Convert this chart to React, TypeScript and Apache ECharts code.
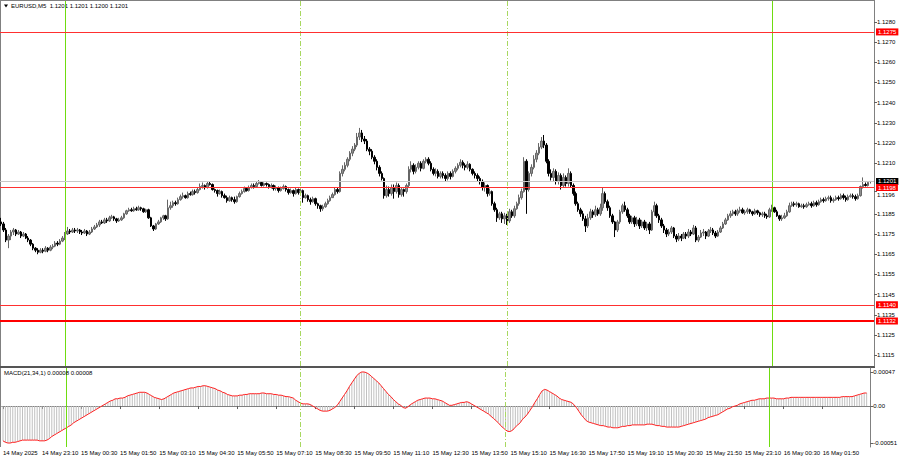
import React, { useEffect, useRef } from 'react';
import * as echarts from 'echarts';

// Prices in pips above 1.1000 (e.g. 201 = 1.1201)
const opens = [
181,180,177,172,174,176,177,175,176,174,
175,173,172,170,168,167,166,167,166.5,168,
167,168.5,169,170.5,170,171.5,173,175,176.5,176,
177,176.5,177,176,175.5,176.5,175,176,177.5,178.5,
179.5,181,180.5,182,181.5,183,183.5,182.5,181.5,182,
183,185,186.5,187,186.5,187.5,187,188,187.5,186,
187,183,179,177.5,180,181,183,184,182.5,188,
189,190.5,190,192,193.5,194,193,195,194.5,196,
195.5,197,198.5,199,198,200,199.5,197,196.5,195,
196,194,193,191.5,193,192,191,193.5,195,196,
197.5,196.5,198,199,198.5,200,200.5,199,200,199.5,
198.5,199,197.5,198,196.5,197.5,198.5,197,195.5,196.5,
195,197,195.5,196.5,193,194,192,191,192.5,190,
189,187.5,188.5,190,191.5,193,194.5,197,196,205,
207,209,212,215,217,219,223,225,222,221,
217,216,213,211,208,205,202.5,194,197,195,
198,196,199,194.5,197,196,199,207,209,206,
208,210,207.5,211,212,210,207,205,206,203.5,
205,204,202.5,205,203.5,206,207.5,209,210.5,209,
208,209.5,207,205,204,202.5,201,198,199,195,
196,190,187,183,185,182.5,184,181.5,186,184,
187.5,190,193,196,211,197,205,208,212,215,
218,221,219,211,205,203,206,201,204,199,
203,200,205,199,195,190,187,185,182.5,179,
183,186,184.5,187,185,188,195,191,188,184,
181,177,181,186,189,187,184,181,183,180,
182,179,181,178,180,177,186,189,184,182,
179,177,175,176,178,174,172.5,174,173,175,
174,176,175,178,172,173.5,175.5,176,174,176.5,
177,175.5,174,176,178,180,182,184,185,186,
185,186.5,187,185.5,186,187,186,185,186.5,185.5,
184.5,185,184,183.5,187,188,186,184,182.5,183,
184,186,189,190,189.5,190,188.5,189,188.5,189.5,
190,189,190.5,189.5,191,192,191.5,192.5,193,191.5,
192,193,192.5,194,193,192,193.5,194,193.5,192.5,
194,198.5,199.5,199,201
];
const closes = [
180,177,172,174,176,177,175,176,174,175,
173,172,170,168,167,166,167,166.5,168,167,
168.5,169,170.5,170,171.5,173,175,176.5,176,177,
176.5,177,176,175.5,176.5,175,176,177.5,178.5,179.5,
181,180.5,182,181.5,183,183.5,182.5,181.5,182,183,
185,186.5,187,186.5,187.5,187,188,187.5,186,187,
183,179,177.5,180,181,183,184,182.5,188,189,
190.5,190,192,193.5,194,193,195,194.5,196,195.5,
197,198.5,199,198,200,199.5,197,196.5,195,196,
194,193,191.5,193,192,191,193.5,195,196,197.5,
196.5,198,199,198.5,200,200.5,199,200,199.5,198.5,
199,197.5,198,196.5,197.5,198.5,197,195.5,196.5,195,
197,195.5,196.5,193,194,192,191,192.5,190,189,
187.5,188.5,190,191.5,193,194.5,197,196,205,207,
209,212,215,217,219,223,225,222,221,217,
216,213,211,208,205,202.5,194,197,195,198,
196,199,194.5,197,196,199,207,209,206,208,
210,207.5,211,212,210,207,205,206,203.5,205,
204,202.5,205,203.5,206,207.5,209,210.5,209,208,
209.5,207,205,204,202.5,201,198,199,195,196,
190,187,183,185,182.5,184,181.5,186,184,187.5,
190,193,196,211,197,205,208,212,215,218,
221,219,211,205,203,206,201,204,199,203,
200,205,199,195,190,187,185,182.5,179,183,
186,184.5,187,185,188,195,191,188,184,181,
177,181,186,189,187,184,181,183,180,182,
179,181,178,180,177,186,189,184,182,179,
177,175,176,178,174,172.5,174,173,175,174,
176,175,178,172,173.5,175.5,176,174,176.5,177,
175.5,174,176,178,180,182,184,185,186,185,
186.5,187,185.5,186,187,186,185,186.5,185.5,184.5,
185,184,183.5,187,188,186,184,182.5,183,184,
186,189,190,189.5,190,188.5,189,188.5,189.5,190,
189,190.5,189.5,191,192,191.5,192.5,193,191.5,192,
193,192.5,194,193,192,193.5,194,193.5,192.5,194,
198.5,199.5,199,200.5,201
];
const highs = [
183,181,178,175,177,178,177.5,177,176.5,176,
175.5,174,172.5,170.5,168.5,168,168,168,169,168.5,
169.5,170,171.5,171.5,172.5,174,176,178.5,177.5,178,
178,178,177.5,177,177.5,177,177,178.5,179.5,180.5,
182,182,183,183,184,184.5,184,183,183,184,
185.5,187,188,188,188.5,188.5,189,188.5,188,187.5,
187.5,183.5,179.5,180.5,182,183.5,184.5,184.5,192,191,
191.5,191.5,193,194.5,195.5,194.5,196,196,197,197,
198,200,200.5,199.5,201,201,200,197.5,197,197,
196.5,195,194,194,193.5,193.5,194,196,197,198.5,
198,199,200,200,201,201.7,201,200.5,200.5,200,
200,199.5,199,198.5,198.5,199.5,199,197.5,197.5,197,
198,197.5,198,197,195,194.5,193,193.5,193,190.5,
189.5,189.5,191,192.5,194,195.5,198,198,206,209,
210.5,213,216,218.5,220,225,227.5,226.5,223.5,222,
218,217,214,212,209,206,203,199,198.5,199.5,
199.5,200.5,200,198,197.5,200,208.5,211,210,209.5,
211,211,212,213,213,211,208,207.5,207,206,
206,205,206,206,207,208.5,210,212,211.5,210,
211,210,207.5,206,205,203.5,202,200.5,199.5,197.5,
196.5,191,188,186,186,185.5,185,187.5,187,189,
191,194.5,197.5,213,212,206,209.5,214,216.5,220,
223,224,220,212,207,207.5,207,205.5,205,205,
204,207.5,206,200,196,191,188,186.5,184,185,
187.5,187,189,188,190,198,196,192,189,185,
181.5,182,187,190,191,188,185,184,184,183.5,
183,182,182,181,181,187,191,190,185,183,
180,178,177.5,179,178.5,175,175.5,175,176,176,
177.5,177,179.5,179,174.5,177,177.5,176.5,177.5,178.5,
178,176.5,177,179,181,183,185,186.5,187,187,
187.5,188.5,188,187,188,187.5,186.5,187.5,187,186,
186,186,185,188,189.5,188.5,187,184.5,184.5,185.5,
187,190.5,191,191,191,190.5,190,190,190.5,191,
191,191.5,191.5,192,193,193,193.5,194,194,193,
194,194,195,195,194,194.5,195,195,194.5,195,
199,203,200.5,201,201
];
const lows = [
179,176,171,168,172,174.5,174,174.5,173,173.5,
172.5,171,169,167,166,165,165.5,165.5,166,166,
166.5,167.5,168.5,169,169.5,171,172,174.5,175,175.5,
175.5,175.5,175,174.5,175,174,174.5,175.5,177,178,
178.5,180,180,180.5,181,182.5,181.5,180.5,181,181.5,
182.5,184.5,186,186,186,186.5,186.5,186.5,185.5,185.5,
182.5,178.5,176.5,177,179.5,180.5,182,181.5,182,187,
188,189,189.5,191.5,192.5,192.5,192.5,194,194,194.5,
195,196.5,197.5,197,197.5,199,196.5,195.5,193.5,194.5,
193,192.5,190.5,191,191,190,190.5,193,194.5,195.5,
196,196,197.5,197.5,198,199.5,198.5,198.5,198.5,197.5,
197.5,196.5,196.5,195.5,196,197,196,194.5,195,193.5,
194.5,194.5,195,190.5,192.5,191,189.5,190.5,189,187.5,
186,186.5,188,189.5,191,193.5,194,195,195.5,203.5,
206,208,211,213.5,216,218,221.5,220.5,219.5,216,
214,212,209.5,206.5,203.5,201.5,192.5,193,193.5,194,
192.5,195,193,193.5,193.5,195,198,205.5,204.5,205,
207,206,207,210,209,206,204,203.5,202.5,202.5,
202.5,201,201.5,202,203,205,206.5,208,207.5,206.5,
207,206,204,202.5,201,199.5,196.5,196,193.5,194,
189,186,181,182,180.5,180,179.5,180.5,183,183,
187,189,192,195.5,185,196,203.5,207,210.5,214,
217,217.5,210,203.5,201.5,201,199.5,199.5,197,198,
198.5,198.5,198,194,189,186,183.5,181.5,176,178,
182,183,183.5,184,184,186.5,190,186.5,183,180,
173.5,176,180,185,186,183,180,180,178.5,179,
177.5,178,177,176.5,175,176.5,184,183,180.5,178,
175.5,173.5,174,175,173,171,171.5,171.5,172.5,172.5,
173,174,174.5,171,171,173,174,172.5,173.5,175.5,
174.5,173,173.5,175.5,177.5,179.5,181.5,183,184,184,
184,185.5,185,184.5,185,185,184,184.5,184.5,183.5,
183.5,183,182.5,183,186,185.5,183.5,181.5,181.5,182.5,
183.5,185.5,188.5,188.5,188.5,188,188,187.5,188,189,
188,188.5,188.5,189,190.5,190.5,191,191.5,190.5,190.5,
191.5,191.5,192,192,191,191.5,193,192.5,191.5,192,
193.5,197.5,198.5,198.5,200
];
// MACD(21,34,1) main value per bar, in units of 0.00001
const macd = [
-48,-50,-51,-51,-50,-50,-49,-48,-47,-47,
-47,-47,-47,-47,-47,-48,-48,-48,-47,-45,
-42,-40,-38,-36,-34,-32,-30,-28,-26,-23,
-21,-19,-17,-15,-13,-11,-9,-7,-5,-3,
-1,1,3,5,7,8,10,10,11,11,
12,14,15,16,17,18,19,19,19,18,
16,14,12,11,10,9,10,12,14,16,
18,19,20,21,22,23,24,25,25,26,
27,27,28,28,27,26,25,24,22,21,
19,18,16,15,14,14,14,15,15,16,
16,17,17,17,17,17,18,18,17,17,
17,16,16,15,15,14,13,13,12,11,
8,6,4,3,3,3,2,0,-2,-4,
-6,-7,-7,-7,-6,-4,-2,1,6,11,
16,21,27,32,37,42,45,47,47,46,
44,41,38,35,32,28,24,20,16,13,
9,6,3,1,-2,-3,-1,2,4,6,
8,9,10,11,11,11,10,10,9,8,
7,5,3,1,1,2,3,4,5,5,
6,5,3,1,-1,-3,-5,-7,-9,-11,
-14,-17,-20,-23,-27,-30,-33,-35,-35,-33,
-29,-26,-23,-18,-15,-11,-6,-1,5,10,
16,21,23,22,20,18,16,14,11,9,
8,7,6,5,2,-2,-7,-12,-16,-20,
-22,-23,-24,-25,-26,-27,-27,-28,-29,-29,
-30,-30,-30,-29,-28,-28,-27,-27,-26,-26,
-26,-26,-26,-26,-25,-25,-25,-26,-27,-27,
-28,-28,-29,-29,-29,-29,-29,-29,-28,-27,
-26,-25,-24,-23,-22,-21,-20,-19,-18,-16,
-15,-14,-13,-12,-10,-8,-6,-4,-3,-1,
0,1,3,4,5,6,7,8,8,9,
10,10,10,11,11,11,11,10,10,10,
10,11,11,12,12,12,12,12,12,12,
12,12,12,12,12,12,12,12,12,12,
12,12,12,12,13,13,13,13,13,14,
15,16,17,18,18
];

const timeLabels = [
  '14 May 2025', '14 May 23:10', '15 May 00:30', '15 May 01:50', '15 May 03:10',
  '15 May 04:30', '15 May 05:50', '15 May 07:10', '15 May 08:30', '15 May 09:50',
  '15 May 11:10', '15 May 12:30', '15 May 13:50', '15 May 15:10', '15 May 16:30',
  '15 May 17:50', '15 May 19:10', '15 May 20:30', '15 May 21:50', '15 May 23:10',
  '16 May 00:30', '16 May 01:50', '16 May 03:10'
];
const priceTicks = [1.128, 1.127, 1.126, 1.125, 1.124, 1.123, 1.122, 1.121, 1.1196, 1.1185, 1.1175, 1.1165, 1.1155, 1.1145, 1.1135, 1.1125, 1.1115];
const shiftedTick = 1.1196;
const macdTicks = [0.00047, 0, -0.00051];
const redLevels = [1.1275, 1.1198, 1.114];
const thickLevel = 1.1132;
const bidPrice = 1.1201;
const daySeparators = [26, 314];
const sessionLines = [122, 206];
const SLOTS = 356;
const LABEL_STEP = 16;

const FONT = '"Liberation Sans", Arial, sans-serif';

export default function App() {
  const ref = useRef<HTMLDivElement>(null);
  useEffect(() => {
    if (!ref.current) return;
    const chart = echarts.init(ref.current, undefined, { renderer: 'svg' });
    const P = (v: number) => +(1.1 + v / 10000).toFixed(5);
    const cats = Array.from({ length: SLOTS }, (_, i) => String(i));
    const candles = opens.map((o, i) => {
      const c = closes[i];
      return [P(o), P(c), P(Math.min(lows[i], o, c)), P(Math.max(highs[i], o, c))];
    });
    const macdVals = macd.map((m) => m / 100000);

    const axisGray = '#808080';
    const tag = (value: number, bg: string) => ({
      show: true, position: 'end', distance: 2, color: '#fff', backgroundColor: bg,
      fontSize: 6, fontFamily: FONT, padding: [1, 2, 0, 2], formatter: value.toFixed(4),
    });
    const vLines = [
      ...daySeparators.map((i) => ({ xAxis: String(i), lineStyle: { color: '#6fdc10', width: 1, type: 'solid' } })),
      ...sessionLines.map((i) => ({ xAxis: String(i), lineStyle: { color: '#a8d860', width: 1, type: [5, 2, 1, 2] } })),
    ];

    chart.setOption({
      animation: false,
      backgroundColor: '#ffffff',
      textStyle: { fontFamily: FONT },
      grid: [
        { left: 0, top: 1, width: 874, height: 365 },
        { left: 0, top: 368, width: 874, height: 79 },
      ],
      xAxis: [
        { type: 'category', gridIndex: 0, data: cats, axisLine: { show: false }, axisTick: { show: false }, axisLabel: { show: false }, splitLine: { show: false } },
        {
          type: 'category', gridIndex: 1, data: cats,
          axisLine: { lineStyle: { color: axisGray, width: 1 } },
          axisTick: { show: true, interval: LABEL_STEP - 1, alignWithLabel: true, length: 3, lineStyle: { color: '#606060' } },
          axisLabel: {
            interval: LABEL_STEP - 1, align: 'left', fontSize: 6, color: '#000', margin: 3,
            showMinLabel: true, showMaxLabel: false,
            formatter: (_v: string, idx: number) => (idx % LABEL_STEP === 0 ? timeLabels[idx / LABEL_STEP] ?? '' : ''),
          },
          splitLine: { show: false },
        },
      ],
      yAxis: [
        {
          type: 'value', gridIndex: 0, position: 'right', min: 1.11097, max: 1.12903,
          axisLine: { show: true, lineStyle: { color: axisGray } },
          axisTick: { show: true, length: 3, customValues: priceTicks, lineStyle: { color: '#606060' } },
          axisLabel: {
            customValues: priceTicks, fontSize: 6, color: '#000', margin: 3,
            formatter: (v: number) => (Math.abs(v - shiftedTick) < 1e-7 ? `{low|${v.toFixed(4)}}` : v.toFixed(4)),
            rich: { low: { fontSize: 6, color: '#000', padding: [7, 0, 0, 0] } },
          },
          splitLine: { show: false },
        },
        {
          type: 'value', gridIndex: 1, position: 'right', min: -0.000565, max: 0.000525,
          axisLine: { show: true, lineStyle: { color: axisGray } },
          axisTick: { show: true, length: 3, customValues: macdTicks, lineStyle: { color: '#606060' } },
          axisLabel: { customValues: macdTicks, fontSize: 6, color: '#000', margin: 3, formatter: (v: number) => (Math.abs(v) < 1e-9 ? '0.00' : v.toFixed(5)) },
          splitLine: { show: false },
        },
      ],
      series: [
        {
          type: 'line', xAxisIndex: 0, yAxisIndex: 0, data: [], silent: true,
          markLine: {
            silent: true, symbol: 'none', animation: false, precision: 5,
            data: [
              ...vLines.map((d) => ({ ...d, label: { show: false } })),
              { yAxis: bidPrice, lineStyle: { color: '#c8c8c8', width: 1, type: 'solid' }, label: tag(bidPrice, '#000000') },
              ...redLevels.map((y) => ({ yAxis: y, lineStyle: { color: '#ff3030', width: 1, type: 'solid' }, label: tag(y, '#ff0000') })),
              { yAxis: thickLevel, lineStyle: { color: '#ff0000', width: 2, type: 'solid' }, label: tag(thickLevel, '#ff0000') },
            ],
          },
        },
        {
          type: 'candlestick', xAxisIndex: 0, yAxisIndex: 0, data: candles, barWidth: 2,
          itemStyle: { color: '#909090', color0: '#000000', borderColor: '#666666', borderColor0: '#000000', borderWidth: 1 },
        },
        {
          type: 'bar', xAxisIndex: 1, yAxisIndex: 1, data: macdVals, barWidth: 1,
          itemStyle: { color: '#c0c0c0' },
          markLine: { silent: true, symbol: 'none', animation: false, precision: 5, label: { show: false }, data: vLines },
        },
        {
          type: 'line', xAxisIndex: 1, yAxisIndex: 1, data: macdVals, symbol: 'none',
          lineStyle: { color: '#ff2020', width: 1 },
        },
      ],
      graphic: [
        { type: 'line', shape: { x1: 0, y1: 0.5, x2: 875, y2: 0.5 }, style: { stroke: '#808080', lineWidth: 1 } },
        { type: 'line', shape: { x1: 0.5, y1: 0, x2: 0.5, y2: 447 }, style: { stroke: '#808080', lineWidth: 1 } },
        { type: 'rect', shape: { x: 0, y: 366, width: 875, height: 2 }, style: { fill: '#555555' } },
        { type: 'polygon', shape: { points: [[4, 4.5], [8, 4.5], [6, 7.5]] }, style: { fill: '#000' } },
        { type: 'text', x: 11, y: 6, style: { text: 'EURUSD,M5  1.1201 1.1201 1.1200 1.1201', fontSize: 6, fontFamily: FONT, fill: '#000', verticalAlign: 'middle' } },
        { type: 'text', x: 4, y: 373, z: 10, style: { text: 'MACD(21,34,1) 0.00008 0.00008', fontSize: 6, fontFamily: FONT, fill: '#000', verticalAlign: 'middle' } },
      ],
    });
    return () => chart.dispose();
  }, []);
  return <div ref={ref} style={{ position: 'fixed', left: 0, top: 0, width: 900, height: 460, background: '#fff' }} />;
}
